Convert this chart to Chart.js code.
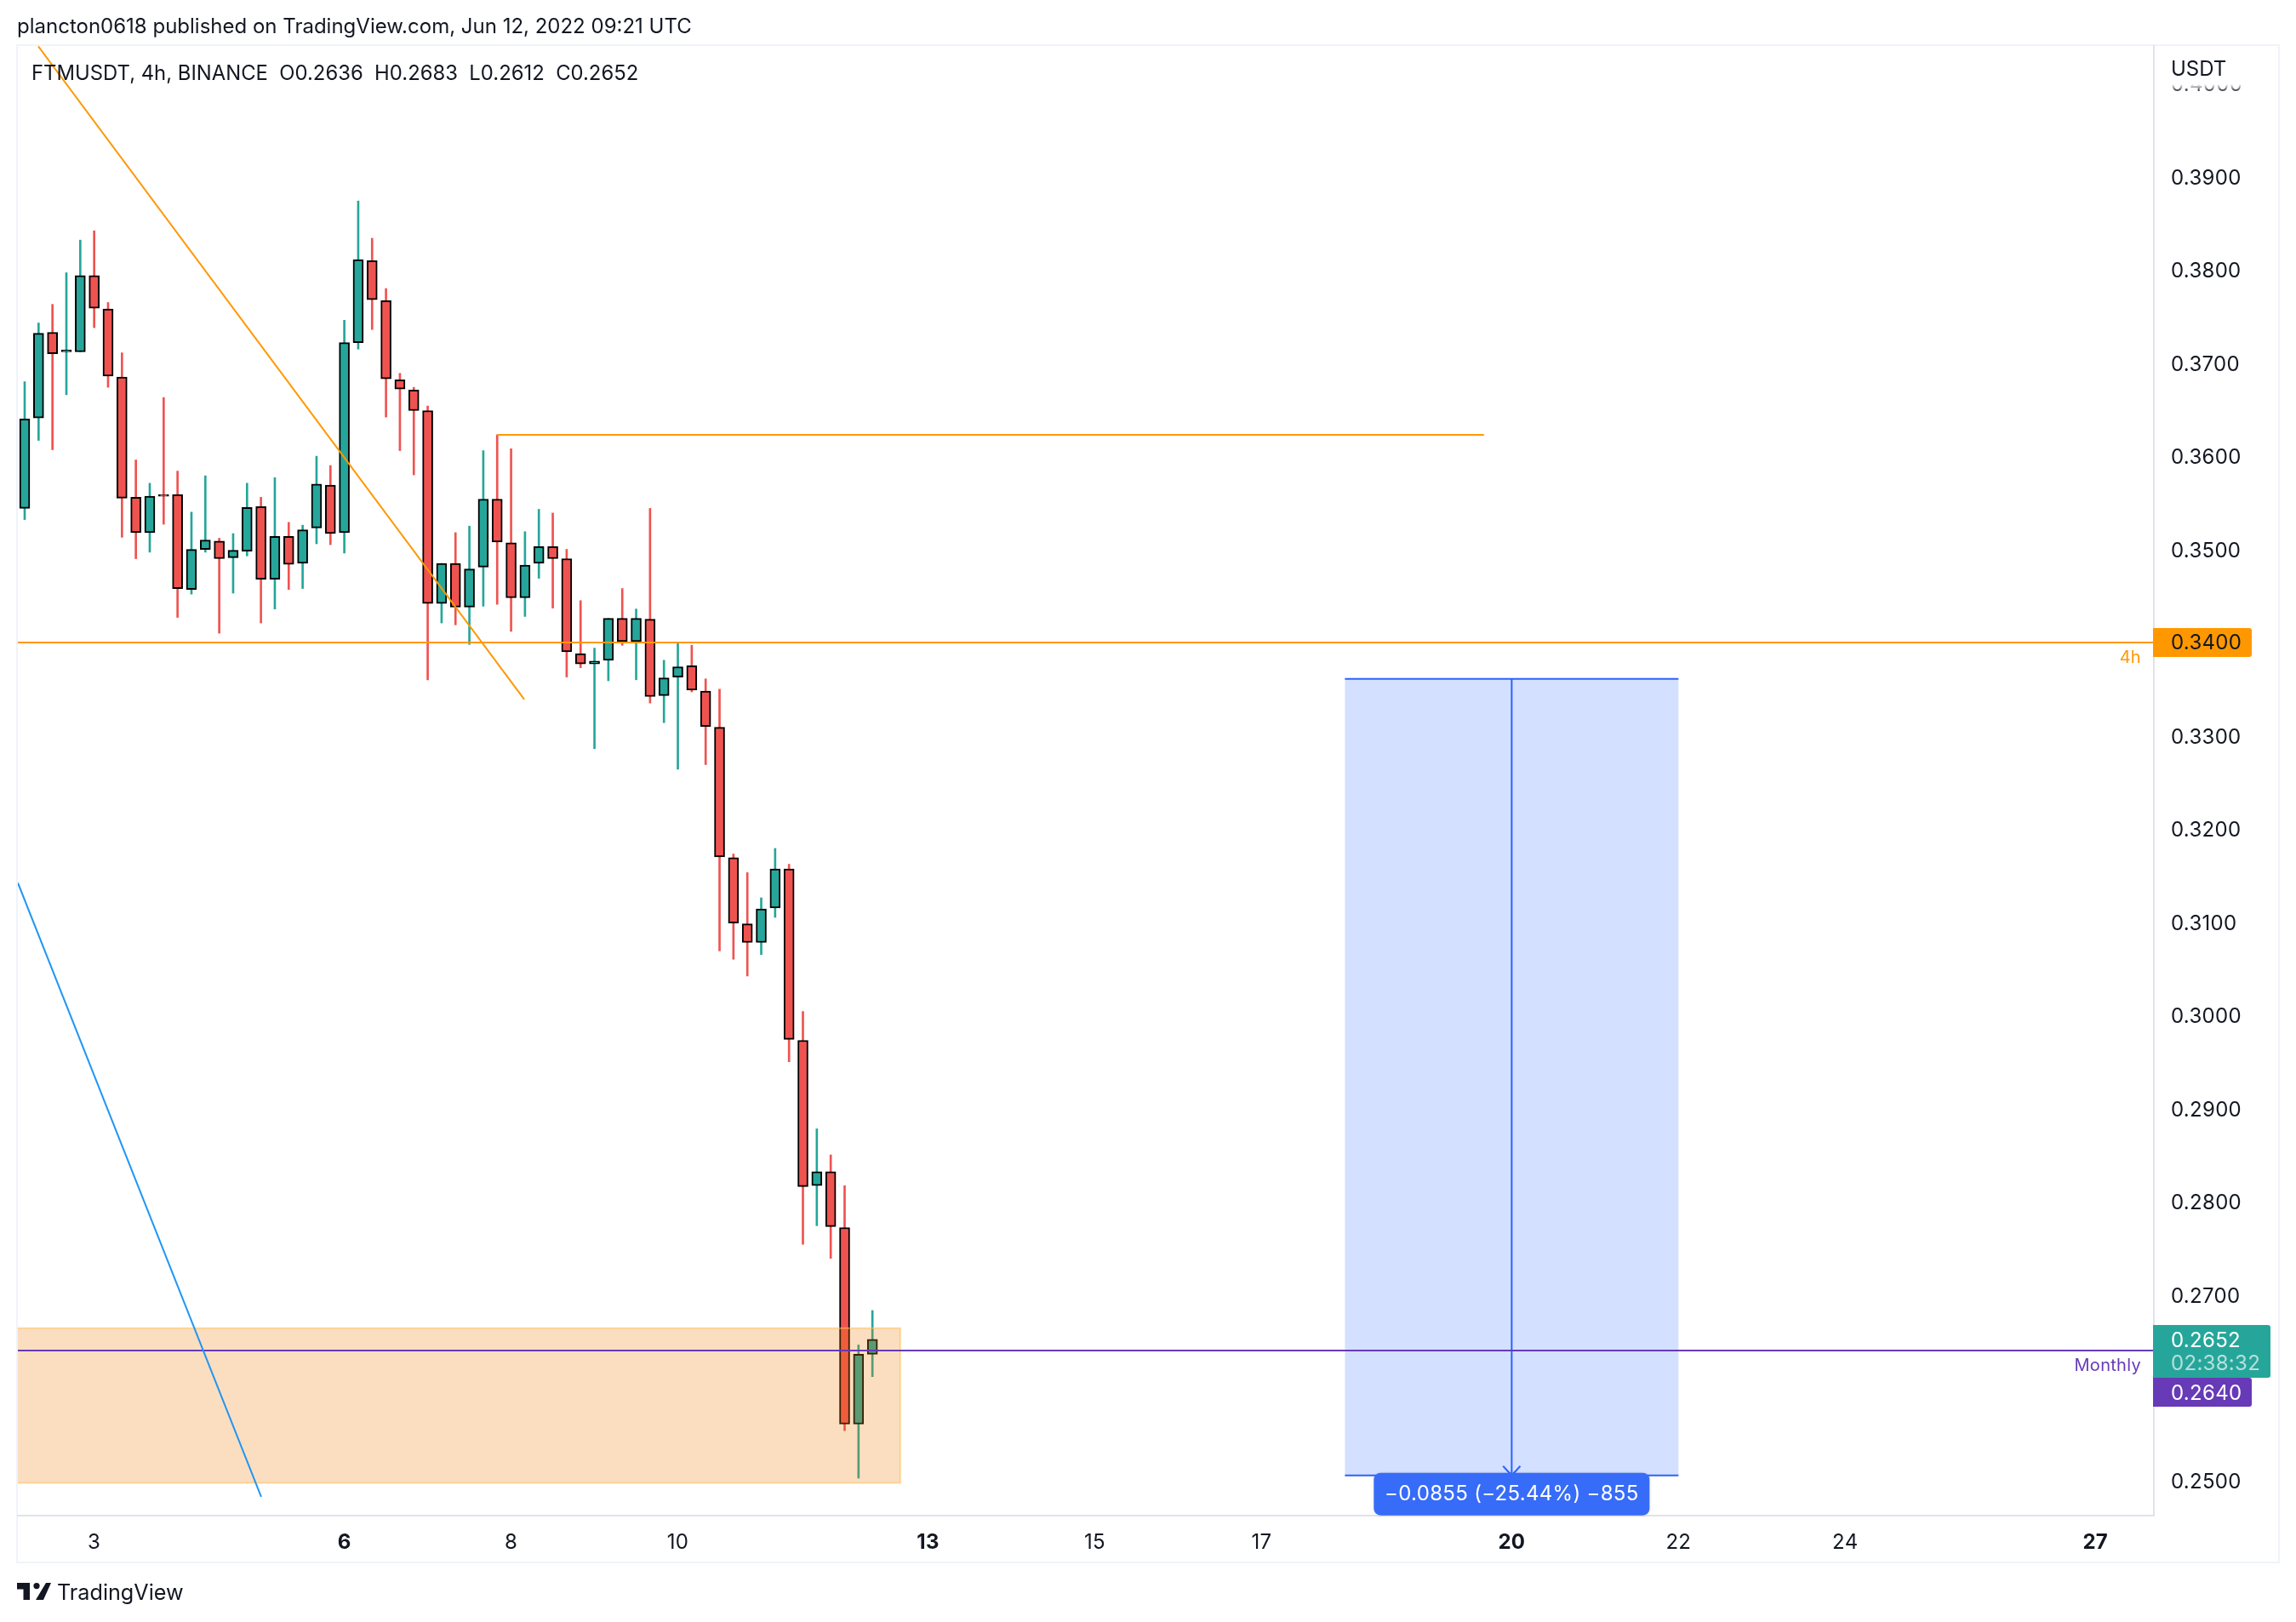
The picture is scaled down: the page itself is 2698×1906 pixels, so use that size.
<!DOCTYPE html>
<html>
<head>
<meta charset="utf-8">
<title>FTMUSDT 4h</title>
<script src="https://cdn.jsdelivr.net/npm/chart.js@4"></script>
<style>
html,body{margin:0;padding:0;background:#fff;width:2698px;height:1906px;overflow:hidden}
#wrap{position:relative;width:2698px;height:1906px}
canvas{position:absolute;left:0;top:0}
.t{position:absolute;font-family:Inter,sans-serif;color:#131722;white-space:pre;line-height:1}
</style>
</head>
<body>
<div id="wrap">
<canvas id="c" width="2698" height="1906"></canvas>
<div class="t" style="left:20px;top:19px;font-size:24px">plancton0618 published on TradingView.com, Jun 12, 2022 09:21 UTC</div>
<div class="t" style="left:37px;top:74px;font-size:23.85px">FTMUSDT, 4h, BINANCE  O0.2636  H0.2683  L0.2612  C0.2652</div>
<div class="t" style="left:2551px;top:69px;font-size:24px">USDT</div>
<svg style="position:absolute;left:20px;top:1860px" width="40" height="20" viewBox="0 0 40 20"><path fill="#131722" d="M0 0H15V20H7.5V7.5H0Z M34 0H40L31 20H22Z"/><circle fill="#131722" cx="23" cy="3.6" r="3.6"/></svg>
<div class="t" style="left:67px;top:1859px;font-size:25.2px">TradingView</div>
</div>
<script>
const opens=[.3544,.3641,.3733,.3712,.3712,.3794,.3758,.3685,.3556,.3518,.3559,.3559,.3457,.3500,.3509,.3491,.3498,.3546,.3468,.3514,.3485,.3523,.3569,.3518,.3722,.3810,.3767,.3682,.3671,.3649,.3442,.3485,.3438,.3481,.3554,.3507,.3448,.3485,.3503,.3490,.3388,.3377,.3381,.3426,.3401,.3425,.3343,.3363,.3375,.3348,.3309,.3169,.3098,.3078,.3115,.3157,.2973,.2817,.2832,.2772,.2561,.2636];
const highs=[.3680,.3743,.3763,.3797,.3832,.3842,.3765,.3711,.3596,.3571,.3663,.3584,.3540,.3579,.3512,.3517,.3571,.3556,.3577,.3529,.3526,.3600,.3590,.3746,.3874,.3834,.3780,.3689,.3674,.3654,.3485,.3518,.3525,.3606,.3623,.3608,.3519,.3543,.3539,.3500,.3445,.3394,.3426,.3458,.3436,.3544,.3381,.3399,.3397,.3361,.3350,.3173,.3153,.3126,.3179,.3162,.3004,.2878,.2850,.2817,.2646,.2683];
const lows=[.3532,.3617,.3607,.3666,.3712,.3738,.3674,.3513,.3490,.3497,.3527,.3427,.3452,.3497,.3410,.3453,.3493,.3421,.3436,.3457,.3458,.3506,.3505,.3496,.3715,.3736,.3642,.3606,.3580,.3360,.3421,.3419,.3398,.3439,.3441,.3412,.3428,.3469,.3437,.3363,.3373,.3286,.3359,.3397,.3360,.3335,.3314,.3264,.3347,.3269,.3069,.3060,.3042,.3065,.3105,.2950,.2754,.2774,.2739,.2554,.2503,.2612];
const closes=[.3640,.3732,.3710,.3714,.3794,.3759,.3686,.3555,.3518,.3557,.3557,.3458,.3500,.3510,.3490,.3499,.3545,.3468,.3514,.3484,.3521,.3570,.3517,.3722,.3811,.3768,.3683,.3672,.3649,.3442,.3485,.3438,.3479,.3554,.3508,.3448,.3483,.3503,.3490,.3390,.3377,.3380,.3426,.3401,.3426,.3342,.3362,.3374,.3349,.3310,.3170,.3099,.3078,.3114,.3157,.2974,.2816,.2832,.2773,.2561,.2636,.2652];

const priceTicks=[.25,.26,.27,.28,.29,.30,.31,.32,.33,.34,.35,.36,.37,.38,.39,.40];
const dayLabels=['3','6','8','10','13','15','17','20','22','24','27'];
const dayIndex=[5,23,35,47,65,77,89,107,119,131,149];
const boldDays=['6','13','20','27'];

const level4h=.3400, levelMonthly=.2640, lastPrice=.2652;
const trendOrange=[{x:.98,y:.4040},{x:35.95,y:.3339}];
const shelfOrange=[{x:34,y:.3623},{x:105,y:.3623}];
const trendBlue=[{x:-.49,y:.3142},{x:17.02,y:.2483}];
const zoneStart=-1,zoneEnd=63,zoneTop=.2664,zoneBottom=.2498;
const measStart=95,measEnd=119,measMid=107,measTop=.3361,measBottom=.2506;
const measText='\u22120.0855 (\u221225.44%) \u2212855';

const UP='#26a69a',DOWN='#ef5350',INK='#131722',FONT='Inter, sans-serif';
const isUp=i=>closes[i]>=opens[i];
const dirColors=opens.map((_,i)=>isUp(i)?UP:DOWN);

const hline=(y,color,order,x0=-1,x1=160,w=2)=>({type:'line',data:[{x:x0,y},{x:x1,y}],borderColor:color,borderWidth:w,pointRadius:0,order,tension:0,fill:false});
const box=(x0,x1,top,bot)=>[{x:x0,y:top},{x:x1,y:top},{x:x1,y:bot},{x:x0,y:bot},{x:x0,y:top}];

const rr=(c,x0,y0,x1,y1,r,left=false)=>{c.beginPath();c.roundRect(x0,y0,x1-x0,y1-y0,left?r:[0,r,r,0]);c.fill();};

const overlay={id:'overlay',
 beforeDraw(ch){const c=ch.ctx;c.letterSpacing='0.3px';c.save();c.strokeStyle='#f0f3fa';c.lineWidth=2;c.strokeRect(20,53,2658,1783);c.restore();},
 afterDraw(ch){
  const c=ch.ctx,y=ch.scales.y,x=ch.scales.x,ax=ch.chartArea.right;
  c.save();
  c.fillStyle='#fff';c.fillRect(ax+2,55,144,44);
  const g=c.createLinearGradient(0,99,0,108);g.addColorStop(0,'rgba(255,255,255,1)');g.addColorStop(1,'rgba(255,255,255,0)');
  c.fillStyle=g;c.fillRect(ax+2,99,144,9);
  c.textBaseline='middle';c.textAlign='left';c.font='400 24px '+FONT;
  const tx=ax+20;
  const y4=y.getPixelForValue(level4h),yl=y.getPixelForValue(lastPrice);
  c.fillStyle='#ff9800';rr(c,ax-1,y4-17,ax+115,y4+17,3);
  c.fillStyle=INK;c.fillText(level4h.toFixed(4),tx,y4+1);
  c.fillStyle='#26a69a';rr(c,ax-1,yl-17,ax+137,yl+45,3);
  c.fillStyle='#fff';c.fillText(lastPrice.toFixed(4),tx,yl+2);
  c.fillStyle='rgba(255,255,255,.65)';c.fillText('02:38:32',tx,yl+29);
  c.fillStyle='#673ab7';rr(c,ax-1,yl+45,ax+115,yl+79,3);
  c.fillStyle='#fff';c.fillText(levelMonthly.toFixed(4),tx,yl+64);
  c.textAlign='right';c.font='400 20px '+FONT;
  c.fillStyle='#ff9800';c.fillText('4h',ax-15,y4+18);
  c.fillStyle='#673ab7';c.fillText('Monthly',ax-15,y.getPixelForValue(levelMonthly)+18);
  const mx=x.getPixelForValue(measMid),my=y.getPixelForValue(measBottom);
  c.shadowColor='rgba(0,0,0,.15)';c.shadowBlur=3;c.fillStyle='#376cf9';
  rr(c,mx-162,my-3,mx+162,my+47,8,true);c.shadowBlur=0;
  c.fillStyle='#fff';c.textAlign='center';c.font='400 24px '+FONT;c.fillText(measText,mx,my+22);
  c.restore();
 }};

new Chart(document.getElementById('c'),{
 type:'bar',
 plugins:[overlay],
 data:{datasets:[
  {label:'Wicks',data:opens.map((_,i)=>({x:i,y:[lows[i],highs[i]]})),backgroundColor:dirColors,barThickness:2,grouped:false,order:9},
  {label:'FTMUSDT',data:opens.map((_,i)=>({x:i,y:[opens[i],closes[i]]})),backgroundColor:dirColors,borderColor:'#000',borderWidth:2,borderSkipped:false,barThickness:12,grouped:false,order:8},
  {type:'line',label:'Zone',data:box(zoneStart,zoneEnd,zoneTop,zoneBottom),fill:'shape',backgroundColor:'rgba(240,124,4,.25)',borderColor:'rgba(255,190,90,.55)',borderWidth:2,pointRadius:0,tension:0,order:7},
  {type:'line',label:'Measure',data:box(measStart,measEnd,measTop,measBottom),fill:'shape',backgroundColor:'rgba(41,98,255,.2)',borderColor:'rgba(0,0,0,0)',borderWidth:0,pointRadius:0,tension:0,order:6},
  hline(measTop,'#2962ff',5,measStart,measEnd),
  hline(measBottom,'#2962ff',5,measStart,measEnd),
  {type:'line',label:'MeasureLine',data:[{x:measMid,y:measTop},{x:measMid,y:measBottom}],borderColor:'#2962ff',borderWidth:2,pointRadius:0,order:5},
  {type:'line',label:'MeasureArrow',data:[{x:measMid-.62,y:measBottom+.001},{x:measMid,y:measBottom},{x:measMid+.62,y:measBottom+.001}],borderColor:'#2962ff',borderWidth:2,pointRadius:0,tension:0,order:5},
  hline(levelMonthly,'#673ab7',4),
  hline(level4h,'#ff9800',3),
  {type:'line',label:'Trend',data:trendOrange,borderColor:'#ff9800',borderWidth:2,pointRadius:0,order:3},
  {type:'line',label:'Shelf',data:shelfOrange,borderColor:'#ff9800',borderWidth:2,pointRadius:0,order:3},
  {type:'line',label:'BlueTrend',data:trendBlue,borderColor:'#2196f3',borderWidth:2,pointRadius:0,order:3}
 ]},
 options:{
  responsive:false,animation:false,devicePixelRatio:1,
  layout:{padding:{left:21,top:54,right:20,bottom:70}},
  plugins:{legend:{display:false},tooltip:{enabled:false},title:{display:false}},
  scales:{
   x:{type:'linear',offset:false,min:-.49,max:153.21,
    grid:{display:false,drawTicks:false,offset:false},
    border:{display:true,color:'#e0e3eb',width:2},
    afterBuildTicks:s=>{s.ticks=dayIndex.map(v=>({value:v}));},
    afterFit:s=>{s.height=55;},
    ticks:{autoSkip:false,maxRotation:0,padding:17,color:INK,
     callback:v=>dayLabels[dayIndex.indexOf(v)],
     font:ctx=>{const v=ctx.tick?dayLabels[dayIndex.indexOf(ctx.tick.value)]:'';return {family:FONT,size:24,weight:boldDays.includes(v)?'700':'400'};}}},
   y:{type:'linear',position:'right',min:.24628,max:.40404,
    grid:{display:false,drawTicks:false},
    border:{display:true,color:'#e0e3eb',width:2},
    afterBuildTicks:s=>{s.ticks=priceTicks.map(v=>({value:v}));},
    afterFit:s=>{s.width=147;},
    ticks:{crossAlign:'near',padding:20,labelOffset:2,color:INK,autoSkip:false,
     callback:v=>v.toFixed(4),font:{family:FONT,size:24}}}
  }
 }
});
</script>
</body>
</html>
